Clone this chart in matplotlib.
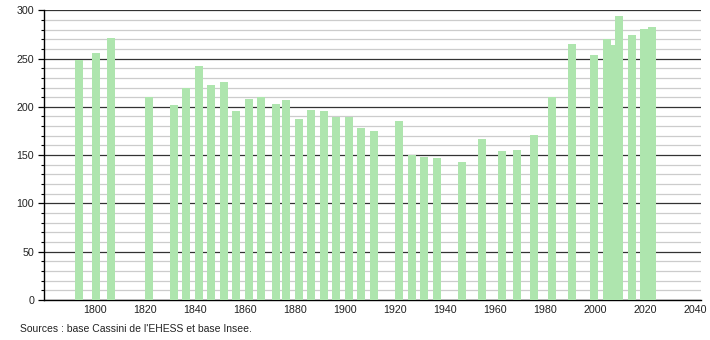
import matplotlib
matplotlib.use("Agg")
import matplotlib.pyplot as plt
from matplotlib.ticker import MultipleLocator

years = [1793, 1800, 1806, 1821, 1831, 1836, 1841, 1846, 1851, 1856, 1861, 1866,
         1872, 1876, 1881, 1886, 1891, 1896, 1901, 1906, 1911, 1921, 1926, 1931,
         1936, 1946, 1954, 1962, 1968, 1975, 1982, 1990, 1999, 2004, 2007, 2009,
         2014, 2019, 2022]
population = [248, 256, 271, 210, 202, 220, 242, 223, 226, 196, 208, 210,
              203, 207, 187, 197, 196, 189, 189, 178, 175, 185, 150, 148,
              147, 143, 167, 154, 155, 171, 210, 265, 254, 270, 264, 294,
              274, 281, 283]
x_ticks = [1800, 1820, 1840, 1860, 1880, 1900, 1920, 1940, 1960, 1980, 2000, 2020, 2040]
source_text = "Sources : base Cassini de l'EHESS et base Insee."

plt.rcParams['font.family'] = ['Liberation Sans', 'DejaVu Sans']

fig = plt.figure(figsize=(7.1, 3.4), dpi=100)
ax = fig.add_axes([44/710, 1-299.8/340, (701-44)/710, (299.8-10.3)/340])

ax.bar([y + 0.5 for y in years], population, width=3.2, color='#aee5ae',
       edgecolor='none', zorder=3)

ax.set_xlim(1779.7, 2042.1)
ax.set_ylim(0, 300)
ax.yaxis.set_major_locator(MultipleLocator(50))
ax.yaxis.set_minor_locator(MultipleLocator(10))
ax.set_xticks(x_ticks)
ax.grid(which='major', axis='y', color='#333333', linewidth=0.9, zorder=1)
ax.grid(which='minor', axis='y', color='#cccccc', linewidth=0.9, zorder=1)
ax.set_axisbelow(True)

for s in ['top', 'right']:
    ax.spines[s].set_visible(False)
ax.spines['left'].set_color('#000000')
ax.spines['bottom'].set_color('#000000')
ax.spines['left'].set_linewidth(1.0)
ax.spines['bottom'].set_linewidth(1.0)

ax.tick_params(axis='y', which='major', length=4, width=0.9, labelsize=7.7,
               colors='#000000', pad=3)
ax.tick_params(axis='y', which='minor', length=2, width=0.8, colors='#000000')
ax.tick_params(axis='x', which='major', length=0, labelsize=7.7, pad=4,
               colors='#000000')
for lbl in ax.get_xticklabels() + ax.get_yticklabels():
    lbl.set_color('#222222')

fig.text(20/710, 1-329/340, source_text, fontsize=7.5, color='#222222',
         ha='left', va='center')

fig.savefig('out.png', dpi=100)
